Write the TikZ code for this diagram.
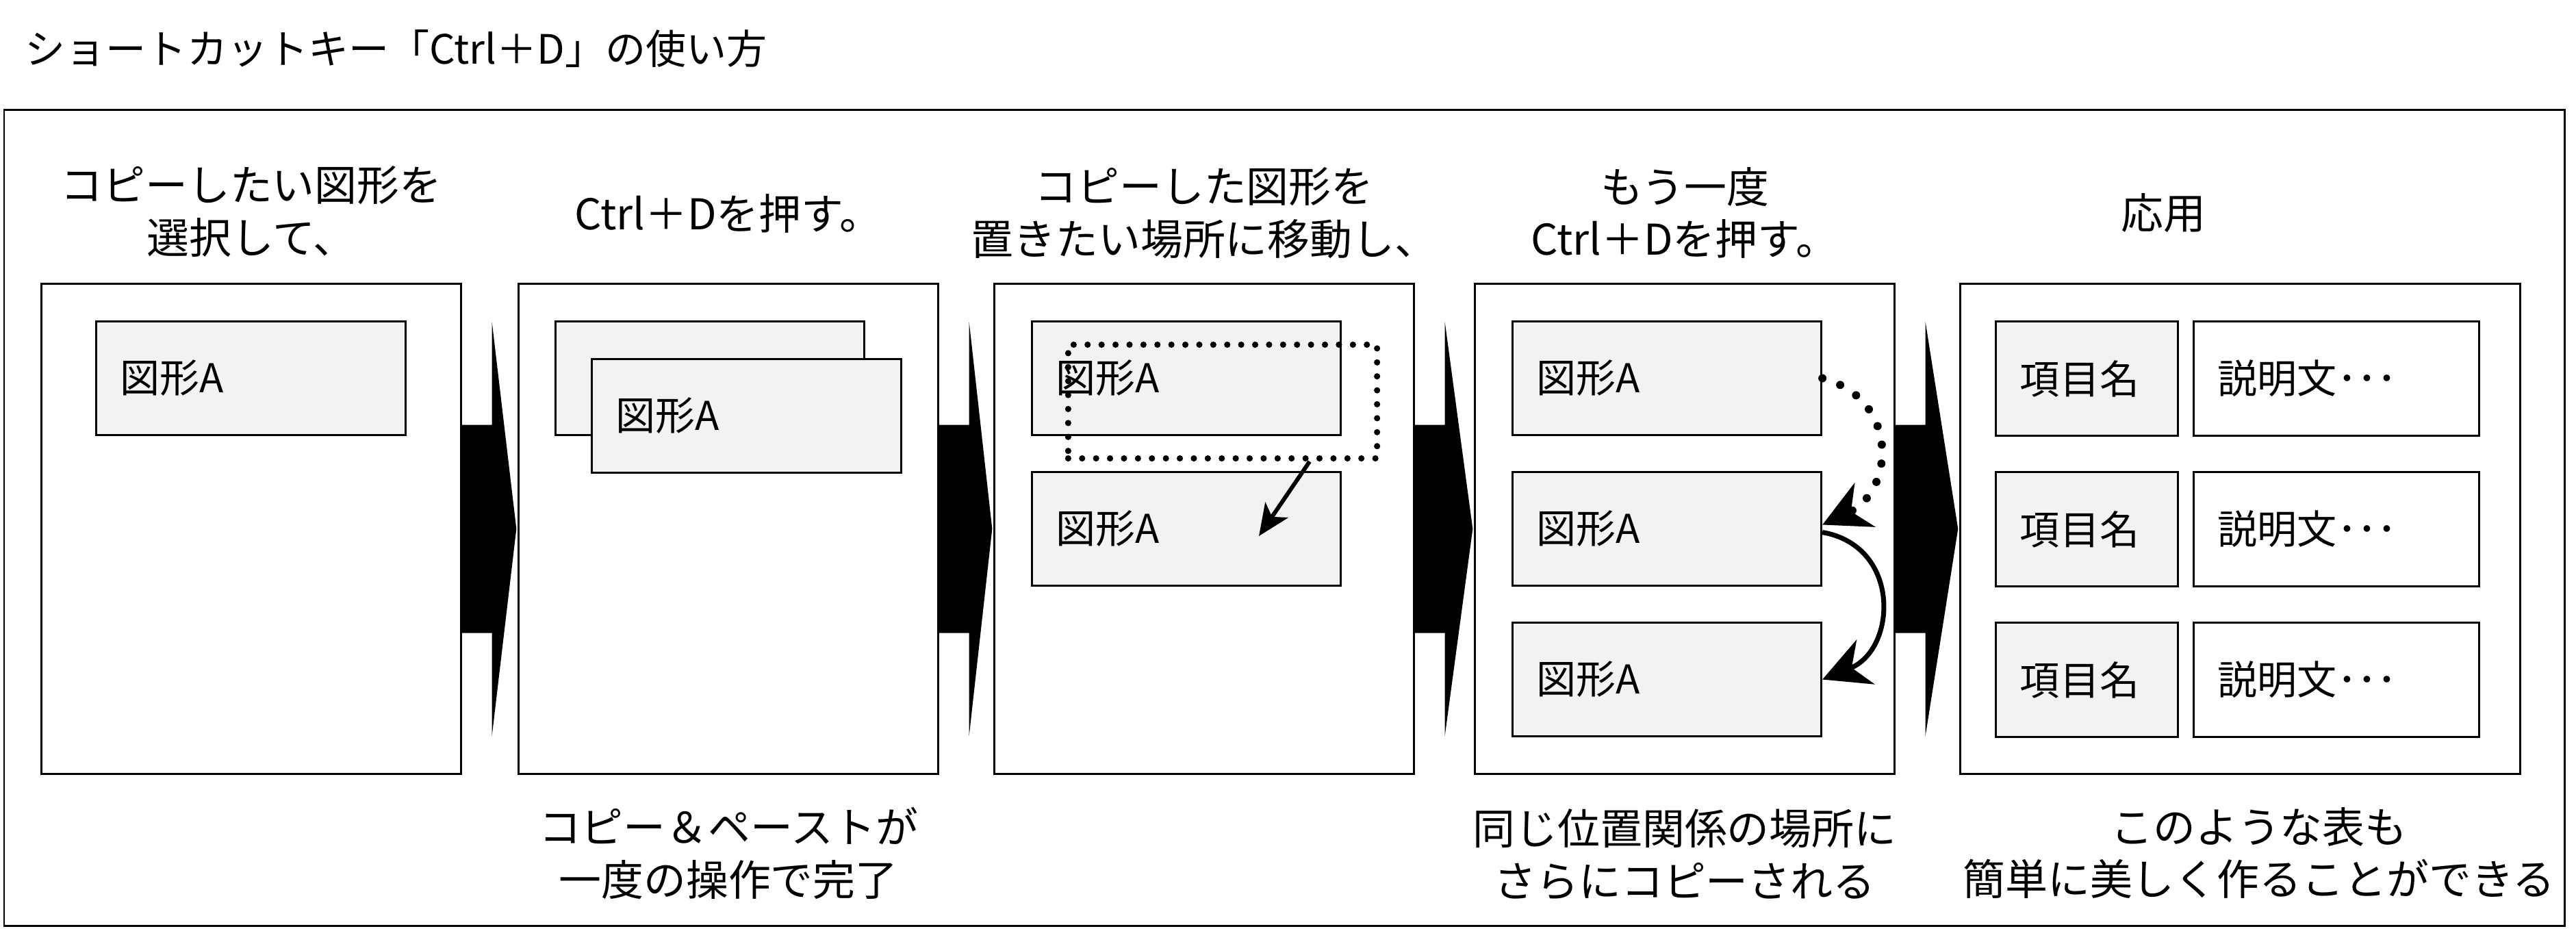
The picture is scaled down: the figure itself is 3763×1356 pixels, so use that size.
\documentclass[tikz,border=0pt]{standalone}
\usepackage{fontspec}
\setmainfont{Noto Sans CJK JP}
\usetikzlibrary{calc,arrows.meta}
\definecolor{boxgray}{HTML}{F2F2F2}

\begin{document}
\begin{tikzpicture}[x=0.01cm,y=-0.01cm,
    every node/.style={font=\fontsize{16.5pt}{21.5pt}\selectfont,inner sep=0},
    label/.style={align=center,font=\fontsize{17.6pt}{21.8pt}\selectfont},
    panel/.style={draw,line width=0.85pt,fill=white,minimum width=6.12cm,minimum height=7.15cm},
    fig/.style={draw,line width=0.85pt,fill=boxgray,minimum height=1.66cm,text width=3.81cm,inner xsep=0.35cm,align=left},
    cell/.style={fig,text width=#1},
    dotsmall/.style={line width=2.6pt,line cap=round,dash pattern=on 0pt off 5.8pt},
    dotbig/.style={line width=3.4pt,line cap=round,dash pattern=on 0pt off 7.9pt},
    tipbig/.style={-{Stealth[length=0.68cm,width=0.7cm,inset=0.22cm]}}]
\useasboundingbox (0,0) rectangle (3763,1356);
\node[anchor=west,font=\fontsize{16.8pt}{21pt}\selectfont] (title) at (36,71) {ショートカットキー「Ctrl＋D」の使い方};
\draw[line width=0.85pt] (6,160) rectangle (3746,1352);
% panels
\node[panel] (p1) at (367,772.5) {};
\node[panel] (p2) at (1064,772.5) {};
\node[panel] (p3) at (1759,772.5) {};
\node[panel] (p4) at (2461,772.5) {};
\node[panel,minimum width=8.17cm] (p5) at (3272.5,772.5) {};
\foreach \a/\b in {p1/p2,p2/p3,p3/p4,p4/p5}
  \fill ($(\a.east)+(0,-152)$) -- ($(\a.east)+(44,-152)$) -- ($(\a.east)+(44,-302)$) -- ($(\b.west)+(-2,0)$)
    -- ($(\a.east)+(44,302)$) -- ($(\a.east)+(44,152)$) -- ($(\a.east)+(0,152)$) -- cycle;
% headings
\node[label] (h1) at (367,309) {コピーしたい図形を\\選択して、};
\node[label] (h2) at (1064,312) {Ctrl＋Dを押す。};
\node[label] (h3) at (1759,311) {コピーした図形を\\置きたい場所に移動し、};
\node[label] (h4) at (2461,311) {もう一度\\Ctrl＋Dを押す。};
\node[label] (h5) at (3160,311) {応用};
\node[label] (n2) at (1064,1246) {コピー＆ペーストが\\一度の操作で完了};
\node[label] (n4) at (2461,1248) {同じ位置関係の場所に\\さらにコピーされる};
\node[label] (n5) at (3300,1246) {このような表も\\簡単に美しく作ることができる};
% step 1, 2
\node[fig] (f11) at (366.5,552.5) {図形A};
\node[fig] (f21) at (1037,552.5) {};
\node[fig] (f22) at (1090.5,607.5) {図形A};
% step 3
\node[fig] (f31) at (1733,552.5) {図形A};
\node[fig] (f32) at (1733,772.5) {図形A};
\node[dotsmall,draw,minimum width=4.51cm,minimum height=1.66cm] (gh) at (1786,586.5) {};
\coordinate (drop) at (1839,783);
\draw[line width=1.7pt,-{Stealth[length=0.46cm,width=0.4cm,inset=0.12cm]}] ($(gh.south west)!0.776!(gh.south east)$) -- (drop);
% step 4
\node[fig] (f41) at (2435,552.5) {図形A};
\node[fig] (f42) at (2435,772.5) {図形A};
\node[fig] (f43) at (2435,992.5) {図形A};
\draw[dotbig,tipbig] (f41.east) to[out=-15,in=25,looseness=1.4] ([yshift=0.06cm]f42.east);
\draw[line width=2pt,tipbig] ([yshift=-0.05cm]f42.east) to[out=-10,in=22,looseness=1.4] (f43.east);
% table
\foreach \r/\y in {1/553,2/773,3/993} {
  \node[cell=1.95cm] (k\r) at (3048.5,\y) {項目名};
  \node[cell=3.46cm,fill=white] (s\r) at (3413,\y) {説明文･･･};
}
\end{tikzpicture}
\end{document}
